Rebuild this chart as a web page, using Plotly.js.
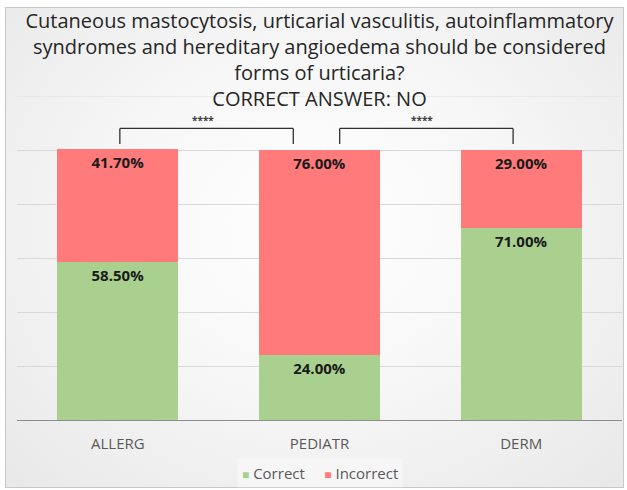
<!DOCTYPE html>
<html>
<head>
<meta charset="utf-8">
<script src="https://cdn.plot.ly/plotly-3.0.1.min.js"></script>
<style>
  html, body { margin: 0; padding: 0; background: #ffffff; }
  #wrap { position: absolute; left: 0; top: 0; width: 627px; height: 490px; }
  #frame { position: absolute; left: 5px; top: 7px; width: 619px; height: 481px;
           border: 1px solid #c8c8c8; box-sizing: border-box;
           background: radial-gradient(ellipse at 50% 45%, #ffffff 0%, #f7f7f7 45%, #e8e8e8 100%); }
  #chart { position: absolute; left: 0; top: 0; width: 627px; height: 490px; }
</style>
</head>
<body>
<div id="wrap">
  <div id="frame"></div>
  <div id="chart"></div>
</div>
<script>
const categories = ['ALLERG', 'PEDIATR', 'DERM'];
const correct = [58.5, 24.0, 71.0];
const incorrect = [41.7, 76.0, 29.0];
const seriesNames = ['Correct', 'Incorrect'];
const seriesColors = ['#a9d08e', '#ff7b7b'];
const titleText = 'Cutaneous mastocytosis, urticarial vasculitis, autoinflammatory<br>syndromes and hereditary angioedema should be considered<br>forms of urticaria?<br>CORRECT ANSWER: NO';
const sigLabels = ['****', '****'];

const FONT = 'Open Sans, Lato, sans-serif';
const labelFont = { family: FONT, size: 15, color: '#1a1a1a', weight: 'bold' };

const traces = [
  { type: 'bar', name: seriesNames[0], x: categories, y: correct,
    marker: { color: seriesColors[0] }, width: 0.6,
    texttemplate: '<b>%{y:.2f}%</b>', textposition: 'inside', insidetextanchor: 'end',
    textfont: labelFont, hoverinfo: 'skip' },
  { type: 'bar', name: seriesNames[1], x: categories, y: incorrect,
    marker: { color: seriesColors[1] }, width: 0.6,
    texttemplate: '<b>%{y:.2f}%</b>', textposition: 'inside', insidetextanchor: 'end',
    textfont: labelFont, hoverinfo: 'skip' }
];

// significance brackets (styling positions in category units)
const brackets = [
  { x0: 0.01, x1: 0.87 },
  { x0: 1.10, x1: 1.96 }
];
const yBar = 108.0, yFoot = 102.2, yStar = 111.0;
const shapes = [
  // top gridline (120%) that sits behind the title
  { type: 'line', xref: 'paper', yref: 'y', x0: 0, x1: 1, y0: 120, y1: 120,
    line: { color: '#e0e0e0', width: 1 }, layer: 'below' }
];
const annotations = [];
brackets.forEach((b, i) => {
  const ln = { color: '#303030', width: 1.3 };
  shapes.push({ type: 'line', xref: 'x', yref: 'y', x0: b.x0, x1: b.x1, y0: yBar, y1: yBar, line: ln });
  shapes.push({ type: 'line', xref: 'x', yref: 'y', x0: b.x0, x1: b.x0, y0: yBar, y1: yFoot, line: ln });
  shapes.push({ type: 'line', xref: 'x', yref: 'y', x0: b.x1, x1: b.x1, y0: yBar, y1: yFoot, line: ln });
  annotations.push({ xref: 'x', yref: 'y', x: (b.x0 + b.x1) / 2 - 0.02, y: yStar, text: sigLabels[i],
    showarrow: false, font: { family: FONT, size: 10, color: '#404040', weight: 'bold' } });
});

// compact legend drawn as text
annotations.push({
  xref: 'paper', yref: 'paper', x: 0.5, y: -0.163, xanchor: 'center', yanchor: 'middle',
  showarrow: false, bgcolor: 'rgba(255,255,255,0.35)', borderpad: 4,
  text: '<span style="color:' + seriesColors[0] + ';font-size:12px">■</span> ' + seriesNames[0] +
        '&nbsp;&nbsp;&nbsp;&nbsp;&nbsp;<span style="color:' + seriesColors[1] + ';font-size:12px">■</span> ' + seriesNames[1],
  font: { family: FONT, size: 15, color: '#595959' }
});

const layout = {
  width: 627, height: 490,
  margin: { l: 17, r: 5, t: 96, b: 70 },
  paper_bgcolor: 'rgba(0,0,0,0)',
  plot_bgcolor: 'rgba(0,0,0,0)',
  barmode: 'stack',
  bargap: 0.4,
  showlegend: false,
  title: { text: titleText, x: 0.5, xref: 'paper', xanchor: 'center',
           y: 0.943, yref: 'container', yanchor: 'top',
           font: { family: FONT, size: 20, color: '#262626' } },
  xaxis: { type: 'category', showline: true, linecolor: '#8c8c8c', linewidth: 1.3,
           ticks: '', tickfont: { family: FONT, size: 15, color: '#595959' },
           ticklabelstandoff: 10, showgrid: false, fixedrange: true },
  yaxis: { range: [0, 120], dtick: 20, showticklabels: false, gridcolor: '#d9d9d9',
           gridwidth: 1, zeroline: false, showline: false, fixedrange: true },
  shapes: shapes,
  annotations: annotations
};

Plotly.newPlot('chart', traces, layout, { displayModeBar: false, staticPlot: true });
</script>
</body>
</html>
